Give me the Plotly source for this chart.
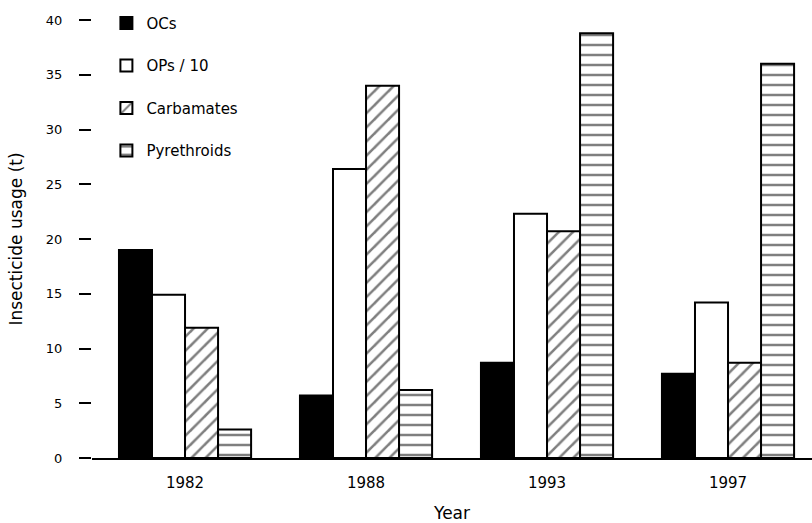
import plotly.graph_objects as go

years = ["1982", "1988", "1993", "1997"]
series_names = ["OCs", "OPs / 10", "Carbamates", "Pyrethroids"]
ocs = [19.0, 5.7, 8.7, 7.7]
ops_div10 = [14.9, 26.4, 22.3, 14.2]
carbamates = [11.9, 34.0, 20.7, 8.7]
pyrethroids = [2.6, 6.2, 38.8, 36.0]
y_ticks = [0, 5, 10, 15, 20, 25, 30, 35, 40]

values = [ocs, ops_div10, carbamates, pyrethroids]
fills = ["black", "white", "white", "white"]
shapes = ["", "", "/", "-"]

fig = go.Figure()
for i, (name, vals) in enumerate(zip(series_names, values)):
    fig.add_trace(go.Bar(
        x=years, y=vals, name=name, legendgroup=name,
        marker=dict(
            color=fills[i],
            line=dict(color="black", width=2),
            pattern=dict(shape=shapes[i], fgcolor="black", bgcolor="white",
                         size=10, solidity=0.25) if shapes[i] else None,
        ),
    ))

fig.update_layout(
    width=812, height=523,
    margin=dict(l=92, r=0, t=20, b=65),
    paper_bgcolor="white", plot_bgcolor="white",
    font=dict(family="DejaVu Sans, Arial, sans-serif", size=14, color="black"),
    barmode="group", bargap=0.27, bargroupgap=0,
    showlegend=True,
    legend=dict(x=0.02, y=1.03, xanchor="left", yanchor="top",
                bgcolor="rgba(0,0,0,0)", font=dict(size=15),
                tracegroupgap=20, traceorder="grouped", itemwidth=30),
    xaxis=dict(type="category", range=[-0.514, 3.464], showline=True,
               linecolor="black", linewidth=2, ticks="", showgrid=False,
               ticklabelstandoff=10,
               title=dict(text="Year", standoff=16),
               tickfont=dict(size=15)),
    yaxis=dict(range=[0, 40], tickvals=y_ticks, ticks="outside", ticklen=12,
               tickwidth=2, tickcolor="black", showline=False, showgrid=False,
               zeroline=False, ticklabelstandoff=14,
               title=dict(text="Insecticide usage (t)", standoff=18),
               tickfont=dict(size=13)),
)

fig.write_html("out.html")
